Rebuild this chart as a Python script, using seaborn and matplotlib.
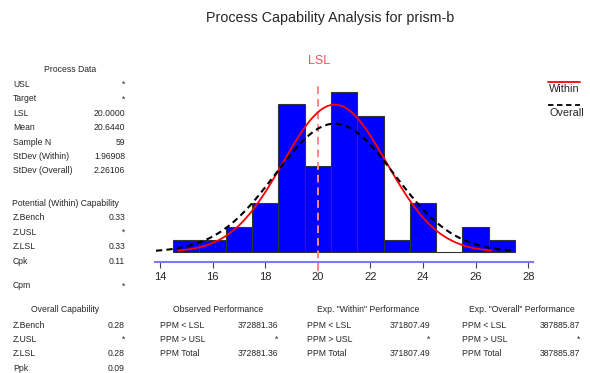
import matplotlib
matplotlib.use("Agg")
import matplotlib.pyplot as plt
from matplotlib.lines import Line2D
import seaborn as sns
import numpy as np
import pandas as pd

# histogram (bin width 1, centres 15..27)
bin_centers = [15, 16, 17, 18, 19, 20, 21, 22, 23, 24, 25, 26, 27]
bin_counts = [1, 1, 2, 4, 12, 7, 13, 11, 1, 4, 0, 2, 1]

lsl = 20.0
mean = 20.6440
sd_within = 1.96908
sd_overall = 2.26106
n_obs = 59

process_rows = [("USL", "*"), ("Target", "*"), ("LSL", "20.0000"), ("Mean", "20.6440"),
                ("Sample N", "59"), ("StDev (Within)", "1.96908"), ("StDev (Overall)", "2.26106")]
within_rows = [("Z.Bench", "0.33"), ("Z.USL", "*"), ("Z.LSL", "0.33"), ("Cpk", "0.11")]
cpm_row = ("Cpm", "*")
overall_rows = [("Z.Bench", "0.28"), ("Z.USL", "*"), ("Z.LSL", "0.28"), ("Ppk", "0.09")]
perf_titles = ["Observed Performance", 'Exp. "Within" Performance', 'Exp. "Overall" Performance']
perf_labels = ["PPM < LSL", "PPM > USL", "PPM Total"]
perf_values = [["372881.36", "*", "372881.36"],
               ["371807.49", "*", "371807.49"],
               ["387885.87", "*", "387885.87"]]
x_ticks = [14, 16, 18, 20, 22, 24, 26, 28]

sns.set_style("white")
plt.rcParams['font.family'] = ['Liberation Sans', 'DejaVu Sans']

W, H = 590, 373
fig = plt.figure(figsize=(W / 100, H / 100), dpi=100)

def fx(px):
    return px / W

def fy(py):
    return 1 - py / H

ax = fig.add_axes([fx(154.7), fy(262), fx(378.8), (262 - 70) / H])

values = np.repeat(bin_centers, bin_counts)
edges = np.arange(14.5, 28.5, 1.0)
sns.histplot(x=values, bins=edges, color="#0000ff", alpha=1, edgecolor="#333333",
             linewidth=0.8, ax=ax)

# LSL reference line
ax.axvline(lsl, ymin=-0.045, ymax=0.93, color="#f58a8a", linestyle=(0, (4, 2.5)),
           linewidth=1.4, clip_on=False, zorder=3)

# fitted normal curves scaled to counts
xw = np.linspace(14.7, 26.6, 200)
yw = n_obs * np.exp(-0.5 * ((xw - mean) / sd_within) ** 2) / (sd_within * np.sqrt(2 * np.pi))
xo = np.linspace(13.85, 27.5, 200)
yo = n_obs * np.exp(-0.5 * ((xo - mean) / sd_overall) ** 2) / (sd_overall * np.sqrt(2 * np.pi))
curves = pd.DataFrame({"x": xw, "y": yw})
sns.lineplot(data=curves, x="x", y="y", color="red", linewidth=1.3, ax=ax, zorder=4)
curves_o = pd.DataFrame({"x": xo, "y": yo})
sns.lineplot(data=curves_o, x="x", y="y", color="black", linewidth=1.5,
             linestyle=(0, (3, 2)), ax=ax, zorder=4)

ax.set_xlim(13.8, 28.2)
ax.set_ylim(-0.8, 14.76)
for s in ["top", "left", "right"]:
    ax.spines[s].set_visible(False)
ax.spines["bottom"].set_color("#7b7bf5")
ax.spines["bottom"].set_linewidth(1.5)
ax.set_yticks([])
ax.set_xticks(x_ticks)
ax.tick_params(axis="x", direction="out", length=4, width=0.8, color="#444444",
               labelsize=8, pad=3, bottom=True)
ax.set_xlabel("")
ax.set_ylabel("")

fig.text(fx(319), fy(61), "LSL", color="#f55060", fontsize=9, ha="center", va="center")

fig.text(fx(330), fy(18), "Process Capability Analysis for prism-b", fontsize=10.3,
         ha="center", va="center")

# legend on the right
fig.add_artist(Line2D([fx(548), fx(580)], [fy(82), fy(82)], color="red", linewidth=1.3))
fig.text(fx(549), fy(89), "Within", fontsize=7.8, ha="left", va="center")
fig.add_artist(Line2D([fx(548), fx(580)], [fy(105), fy(105)], color="black",
                      linewidth=1.3, linestyle=(0, (3, 2))))
fig.text(fx(549), fy(113), "Overall", fontsize=7.8, ha="left", va="center")

fs = 6.2

def table(rows, y0, xl=13, xr=125, step=14.4):
    for i, (lab, val) in enumerate(rows):
        y = y0 + i * step
        fig.text(fx(xl), fy(y), lab, fontsize=fs, ha="left", va="center")
        fig.text(fx(xr), fy(y), val, fontsize=fs, ha="right", va="center")

fig.text(fx(70), fy(70), "Process Data", fontsize=fs, ha="center", va="center")
table(process_rows, 84.5)
fig.text(fx(12), fy(204), "Potential (Within) Capability", fontsize=fs, ha="left", va="center")
table(within_rows, 218)
table([cpm_row], 286)
fig.text(fx(65), fy(310), "Overall Capability", fontsize=fs, ha="center", va="center")
table(overall_rows, 325)

title_x = [218, 368, 522]
label_x = [160, 307, 462]
value_x = [278, 430, 580]
for k in range(3):
    fig.text(fx(title_x[k]), fy(310), perf_titles[k], fontsize=fs, ha="center", va="center")
    for i in range(3):
        y = 325 + i * 14.2
        fig.text(fx(label_x[k]), fy(y), perf_labels[i], fontsize=fs, ha="left", va="center")
        fig.text(fx(value_x[k]), fy(y), perf_values[k][i], fontsize=fs, ha="right", va="center")

fig.savefig("out.png", dpi=100)
